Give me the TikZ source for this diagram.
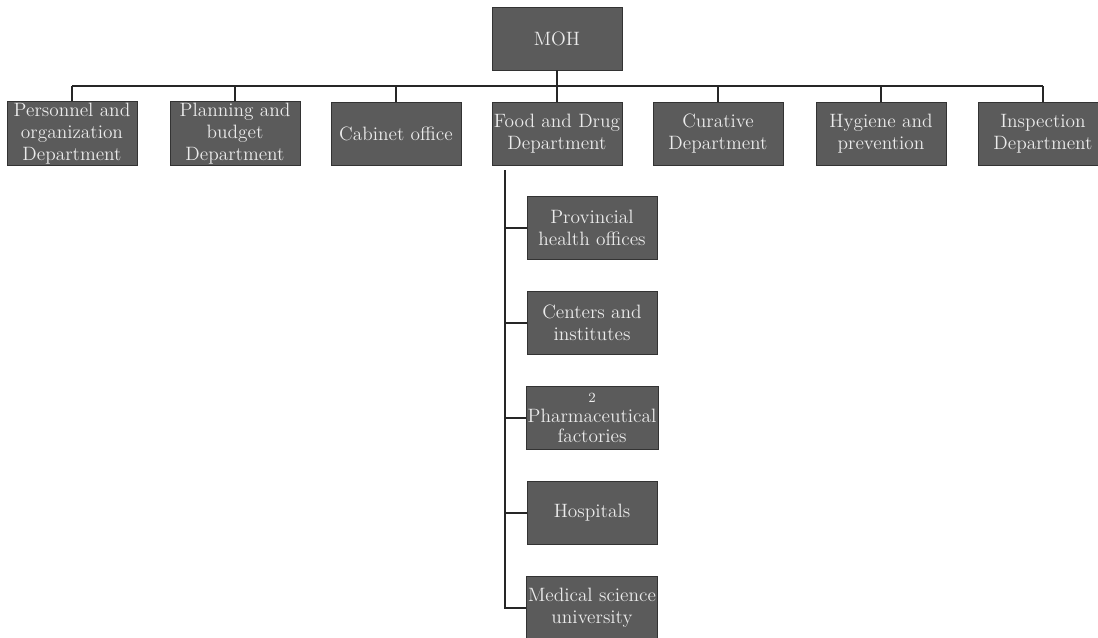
\documentclass[tikz,border=0pt]{standalone}
\usepackage{tikz}
\usetikzlibrary{positioning, calc}
\usepackage[dvipsnames, svgnames, table]{xcolor}

\definecolor{unitgray}{HTML}{5B5B5B}

\tikzset{
    unit/.style={draw=black!80, fill=unitgray, text=white!92!black,
        minimum width=2.6cm, minimum height=1.26cm, inner sep=1pt,
        align=center, font=\fontsize{11}{12.5}\selectfont},
    link/.style={line width=1.2pt, black!85}
}

\begin{document}
\begin{tikzpicture}[x=0.02cm, y=-0.02cm]
    \useasboundingbox (0,0) rectangle (1098,637);

    % Ministry
    \node[unit] (moh) at (557,38.5) {MOH};

    % Departments
    \node[unit] (pers) at (72,133.5) {Personnel and\\organization\\Department};
    \node[unit] (plan) at (235,133.5) {Planning and\\budget\\Department};
    \node[unit] (cab) at (396,133.5) {Cabinet office};
    \node[unit] (fdd) at (557,133.5) {Food and Drug\\Department};
    \node[unit] (cur) at (718,133.5) {Curative\\Department};
    \node[unit] (hyg) at (881,133.5) {Hygiene and\\prevention};
    \node[unit] (insp) at (1043,133.5) {Inspection\\Department};

    % Units under Food and Drug
    \node[unit] (prov) at (592,228) {Provincial\\health offices};
    \node[unit] (cent) at (592,323) {Centers and\\institutes};
    \node[unit, font=\fontsize{11}{11.5}\selectfont] (pharm) at (592,418)
        {{\footnotesize 2}\\Pharmaceutical\\factories};
    \node[unit] (hosp) at (592,513) {Hospitals};
    \node[unit] (med) at (592,608) {Medical science\\university};

    % Bus
    \coordinate (busL) at (72,86);
    \coordinate (busR) at (1043,86);
    \draw[link] (busL) -- (busR);
    \draw[link] (moh.south) -- (moh.south |- busL);
    \foreach \d in {pers, plan, cab, fdd, cur, hyg, insp}
        \draw[link] (\d.north |- busL) -- (\d.north);

    % Spine
    \coordinate (spine) at (505,170);
    \draw[link] (spine) |- (med.west);
    \foreach \u in {prov, cent, pharm, hosp}
        \draw[link] (\u.west -| spine) -- (\u.west);
\end{tikzpicture}
\end{document}
